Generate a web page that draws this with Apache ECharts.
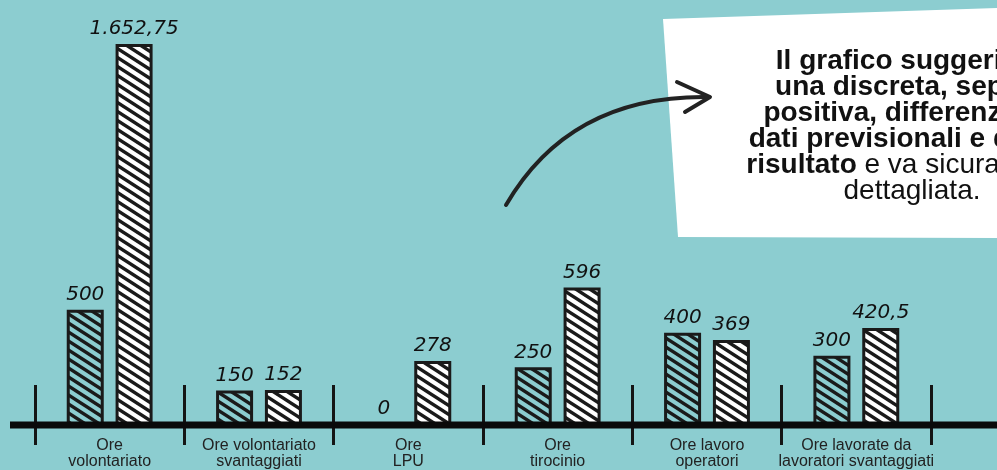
<!DOCTYPE html>
<html>
<head>
<meta charset="utf-8">
<script src="https://cdn.jsdelivr.net/npm/echarts@6/dist/echarts.min.js"></script>
<style>
  html, body { margin: 0; padding: 0; background: #8ccdd0; }
  #chart { width: 997px; height: 470px; }
</style>
</head>
<body>
<div id="chart"></div>
<script>
// dati
var categorie = ['Ore\nvolontariato', 'Ore volontariato\nsvantaggiati', 'Ore\nLPU', 'Ore\ntirocinio', 'Ore lavoro\noperatori', 'Ore lavorate da\nlavoratori svantaggiati'];
var previsionali = [500, 150, 0, 250, 400, 300];
var risultato = [1652.75, 152, 278, 596, 369, 420.5];

// numero in formato italiano: 1.652,75
function fmtIt(v) {
  var parts = String(v).split('.');
  var intero = parts[0].replace(/\B(?=(\d{3})+(?!\d))/g, '.');
  return parts.length > 1 ? intero + ',' + parts[1] : intero;
}

// tratteggio diagonale
function hatch(bg) {
  var w = 14, h = 9;
  var c = document.createElement('canvas');
  c.width = w; c.height = h;
  var ctx = c.getContext('2d');
  if (bg) { ctx.fillStyle = bg; ctx.fillRect(0, 0, w, h); }
  ctx.strokeStyle = '#1a1a1a';
  ctx.lineWidth = 3.4;
  for (var k = -2; k <= 2; k++) {
    ctx.beginPath();
    ctx.moveTo(k * w - w, -h);
    ctx.lineTo(k * w + 2 * w, 2 * h);
    ctx.stroke();
  }
  return { image: c, repeat: 'repeat' };
}

var labelStyle = {
  show: true,
  position: 'top',
  distance: 5,
  fontFamily: 'DejaVu Sans',
  fontStyle: 'italic',
  fontSize: 20,
  color: '#111',
  formatter: function (p) { return fmtIt(p.value); }
};

var myChart = echarts.init(document.getElementById('chart'));
var option = {
  backgroundColor: '#8ccdd0',
  animation: false,
  grid: { left: 35, right: 66, top: 10, bottom: 45 },
  xAxis: [
    {
      type: 'category',
      data: categorie,
      position: 'bottom',
      axisLine: { show: false },
      axisTick: { show: true, interval: 0, length: 20, lineStyle: { color: '#151515', width: 3 } },
      axisLabel: {
        interval: 0,
        margin: 13,
        fontFamily: 'Liberation Sans',
        fontSize: 16,
        lineHeight: 16,
        color: '#222'
      }
    },
    {
      type: 'category',
      data: categorie,
      position: 'bottom',
      axisLine: { show: false },
      axisTick: { show: true, interval: 0, inside: true, length: 40, lineStyle: { color: '#151515', width: 3 } },
      axisLabel: { show: false }
    }
  ],
  yAxis: {
    type: 'value',
    min: 0,
    max: 1800,
    show: false
  },
  series: [
    {
      name: 'Previsionali',
      type: 'bar',
      xAxisIndex: 0,
      data: previsionali,
      barWidth: 37,
      barGap: '32%',
      itemStyle: { color: hatch(null), borderColor: '#1a1a1a', borderWidth: 3 },
      label: labelStyle
    },
    {
      name: 'Risultato',
      type: 'bar',
      xAxisIndex: 0,
      data: risultato,
      barWidth: 37,
      barGap: '32%',
      itemStyle: { color: hatch('#ffffff'), borderColor: '#1a1a1a', borderWidth: 3 },
      label: labelStyle
    }
  ],
  graphic: [
    // linea di base
    {
      type: 'line',
      z: 10,
      shape: { x1: 10, y1: 425, x2: 997, y2: 425 },
      style: { stroke: '#0a0a0a', lineWidth: 7 }
    },
    // riquadro commento
    {
      type: 'polygon',
      z: 5,
      shape: { points: [[663, 19], [1000, 8], [1000, 238], [678, 237]] },
      style: { fill: '#ffffff' }
    },
    {
      type: 'text',
      z: 6,
      x: 912,
      y: 48,
      style: {
        text: '{b|Il grafico suggerisce}\n{b|una discreta, seppur}\n{b|positiva, differenza tra}\n{b|dati previsionali e dati di}\n{b|risultato}{n| e va sicuramente}\n{n|dettagliata.}',
        align: 'center',
        verticalAlign: 'top',
        fill: '#111',
        rich: {
          b: { fontFamily: 'Liberation Sans', fontWeight: 'bold', fontSize: 28, lineHeight: 26, fill: '#111' },
          n: { fontFamily: 'Liberation Sans', fontWeight: 'normal', fontSize: 28, lineHeight: 26, fill: '#111' }
        }
      }
    },
    // freccia
    {
      type: 'bezierCurve',
      z: 6,
      shape: { x1: 506, y1: 205, x2: 708, y2: 97, cpx1: 570, cpy1: 95 },
      style: { stroke: '#222', lineWidth: 4, fill: null, lineCap: 'round' }
    },
    {
      type: 'polyline',
      z: 6,
      shape: { points: [[677, 82], [710, 97], [685, 112]] },
      style: { stroke: '#222', lineWidth: 4, fill: null, lineCap: 'round', lineJoin: 'round' }
    }
  ]
};
myChart.setOption(option);
window.addEventListener('resize', function () {
  myChart.resize();
});
</script>
</body>
</html>
